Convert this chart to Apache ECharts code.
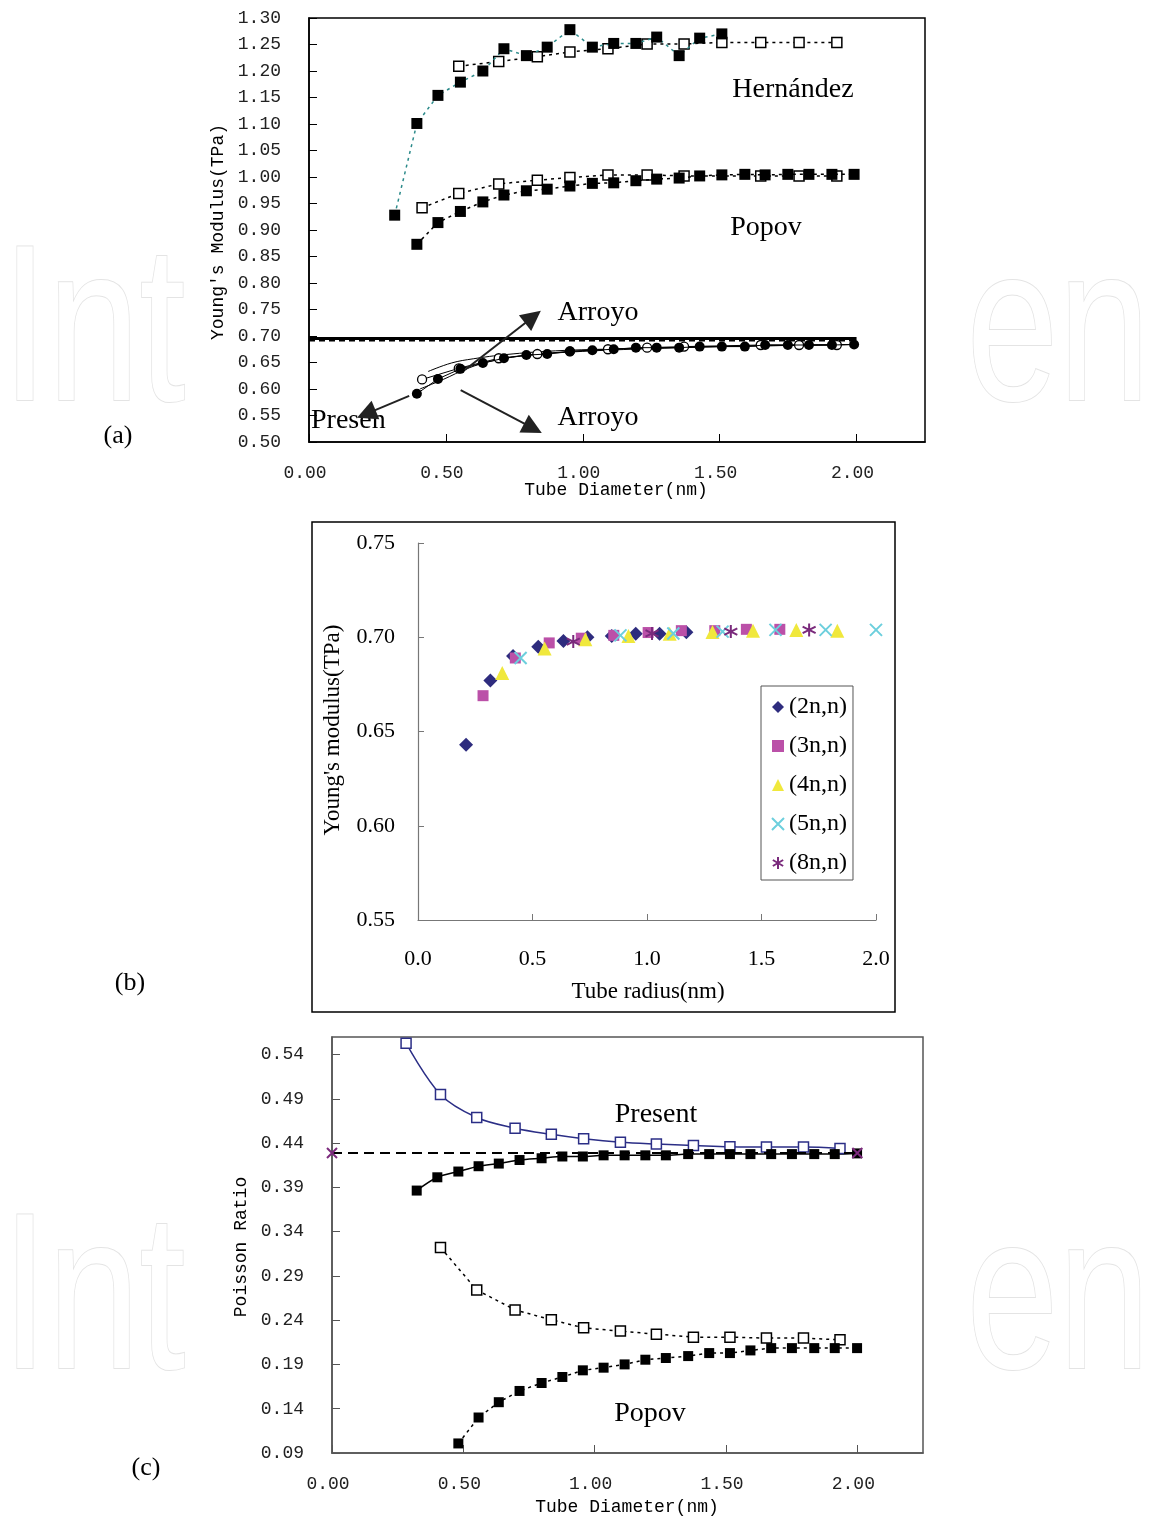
<!DOCTYPE html>
<html>
<head>
<meta charset="utf-8">
<script src="https://cdn.jsdelivr.net/npm/echarts@6/dist/echarts.min.js"></script>
<style>
  html, body { margin: 0; padding: 0; background: #fff; }
  #chart { width: 1150px; height: 1519px; }
</style>
</head>
<body>
<div id="chart"></div>
<script>
// ---------- (a) Young's modulus vs tube diameter ----------
const hernFilledD = [0.313, 0.394, 0.471, 0.553, 0.635, 0.712, 0.794, 0.870, 0.953, 1.035, 1.113, 1.194, 1.270, 1.352, 1.427, 1.508];
const hernFilledE = [0.928, 1.101, 1.154, 1.179, 1.200, 1.242, 1.229, 1.245, 1.278, 1.245, 1.252, 1.252, 1.264, 1.229, 1.262, 1.270];
const hernOpenD = [0.547, 0.693, 0.834, 0.953, 1.092, 1.235, 1.370, 1.508, 1.650, 1.790, 1.928];
const hernOpenE = [1.209, 1.218, 1.227, 1.236, 1.242, 1.251, 1.251, 1.254, 1.254, 1.254, 1.254];
const popovFilledD = [0.394, 0.471, 0.553, 0.635, 0.712, 0.794, 0.870, 0.953, 1.035, 1.113, 1.194, 1.270, 1.352, 1.427, 1.508, 1.592, 1.666, 1.749, 1.826, 1.910, 1.991];
const popovFilledE = [0.873, 0.914, 0.935, 0.953, 0.966, 0.974, 0.977, 0.983, 0.988, 0.989, 0.993, 0.996, 0.998, 1.002, 1.004, 1.005, 1.004, 1.005, 1.005, 1.005, 1.005];
const popovOpenD = [0.413, 0.547, 0.693, 0.834, 0.953, 1.092, 1.235, 1.370, 1.650, 1.790, 1.928];
const popovOpenE = [0.942, 0.969, 0.987, 0.994, 0.999, 1.004, 1.004, 1.002, 1.002, 1.002, 1.002];
const presFilledD = [0.394, 0.471, 0.553, 0.635, 0.712, 0.794, 0.870, 0.953, 1.035, 1.113, 1.194, 1.270, 1.352, 1.427, 1.508, 1.592, 1.666, 1.749, 1.826, 1.910, 1.991];
const presFilledE = [0.591, 0.619, 0.638, 0.649, 0.658, 0.664, 0.666, 0.671, 0.673, 0.675, 0.678, 0.678, 0.678, 0.680, 0.680, 0.680, 0.683, 0.683, 0.683, 0.683, 0.684];
const presOpenD = [0.413, 0.547, 0.693, 0.834, 0.953, 1.092, 1.235, 1.370, 1.650, 1.790, 1.928];
const presOpenE = [0.618, 0.639, 0.658, 0.666, 0.671, 0.675, 0.678, 0.680, 0.683, 0.683, 0.683];
const arroyoUpperD = [0.435, 0.52, 0.60, 0.72, 0.90, 1.15, 1.50, 2.00];
const arroyoUpperE = [0.633, 0.649, 0.657, 0.665, 0.672, 0.676, 0.680, 0.684];
const arroyoLowerD = [0.405, 0.49, 0.58, 0.67, 0.79, 1.00, 1.30, 1.60, 2.00];
const arroyoLowerE = [0.600, 0.618, 0.639, 0.653, 0.663, 0.671, 0.677, 0.681, 0.684];
const limitD = [0.0, 2.0];
const limitSolidE = [0.6955, 0.6955];
const limitDashE = [0.6915, 0.6915];

// ---------- (b) Young's modulus vs tube radius ----------
const r2n = [0.21, 0.316, 0.415, 0.525, 0.635, 0.740, 0.846, 0.951, 1.055, 1.172];
const e2n = [0.643, 0.677, 0.690, 0.695, 0.698, 0.700, 0.7007, 0.7018, 0.7018, 0.7026];
const r3n = [0.284, 0.425, 0.573, 0.713, 0.855, 1.005, 1.150, 1.296, 1.434, 1.580];
const e3n = [0.669, 0.689, 0.697, 0.6995, 0.701, 0.7025, 0.7035, 0.7035, 0.7042, 0.7042];
const r4n = [0.368, 0.553, 0.731, 0.919, 1.099, 1.286, 1.463, 1.652, 1.831];
const e4n = [0.681, 0.694, 0.699, 0.7007, 0.7018, 0.7028, 0.7035, 0.7039, 0.7035];
const r5n = [0.448, 0.884, 1.115, 1.330, 1.561, 1.780, 2.000];
const e5n = [0.689, 0.701, 0.702, 0.703, 0.7039, 0.7039, 0.7039];
const r8n = [0.678, 1.022, 1.366, 1.708];
const e8n = [0.6977, 0.702, 0.703, 0.7039];
const familyNames = ['(2n,n)', '(3n,n)', '(4n,n)', '(5n,n)', '(8n,n)'];

// ---------- (c) Poisson ratio vs tube diameter ----------
const nuPresOpenD = [0.282, 0.413, 0.551, 0.697, 0.835, 0.958, 1.098, 1.235, 1.376, 1.515, 1.654, 1.795, 1.934];
const nuPresOpenV = [0.553, 0.495, 0.469, 0.457, 0.450, 0.445, 0.441, 0.439, 0.4375, 0.436, 0.4356, 0.4356, 0.434];
const nuPresFilledD = [0.3225, 0.401, 0.481, 0.558, 0.635, 0.714, 0.798, 0.877, 0.955, 1.034, 1.114, 1.193, 1.271, 1.356, 1.436, 1.515, 1.593, 1.672, 1.751, 1.836, 1.914, 1.999];
const nuPresFilledV = [0.3865, 0.4015, 0.408, 0.414, 0.417, 0.421, 0.423, 0.425, 0.425, 0.4263, 0.4263, 0.4263, 0.4263, 0.4277, 0.4277, 0.4277, 0.4277, 0.4277, 0.4277, 0.4277, 0.4277, 0.4285];
const nuRefD = [0.0, 2.0];
const nuRefV = [0.429, 0.429];
const nuPopovOpenD = [0.413, 0.551, 0.697, 0.835, 0.958, 1.098, 1.235, 1.376, 1.515, 1.654, 1.795, 1.934];
const nuPopovOpenV = [0.3223, 0.2742, 0.2517, 0.2405, 0.2314, 0.2277, 0.2243, 0.2209, 0.2209, 0.2198, 0.2198, 0.2179];
const nuPopovFilledD = [0.481, 0.558, 0.635, 0.714, 0.798, 0.877, 0.955, 1.034, 1.114, 1.193, 1.271, 1.356, 1.436, 1.515, 1.593, 1.672, 1.751, 1.836, 1.914, 1.999];
const nuPopovFilledV = [0.1008, 0.1301, 0.1474, 0.1601, 0.1691, 0.1759, 0.1834, 0.1864, 0.1901, 0.1954, 0.1973, 0.1995, 0.2029, 0.2029, 0.2059, 0.2085, 0.2085, 0.2085, 0.2085, 0.2085];

const zip = (xs, ys) => xs.map((x, i) => [x, ys[i]]);

const MONO = 'Liberation Mono';
const SERIF = 'Liberation Serif';
const CROSS = 'path://M0,0L10,10M10,0L0,10';
const STAR = 'path://M5,0L5,10M0.7,2.5L9.3,7.5M0.7,7.5L9.3,2.5';

function monoXAxis(idx) {
  return {
    type: 'value', gridIndex: idx, min: 0, max: 2.25, interval: 0.5,
    axisLine: { show: true, lineStyle: { color: idx === 0 ? '#000' : '#555', width: 1.5 } },
    axisTick: { show: true, inside: true, length: 8, lineStyle: { color: idx === 0 ? '#000' : '#555' } },
    axisLabel: { fontFamily: MONO, fontSize: 18, color: '#222', margin: 22, showMaxLabel: false,
                 padding: [0, 8, 0, 0], formatter: v => v.toFixed(2) },
    splitLine: { show: false }
  };
}

function dotted(color) { return { color: color, width: 1.5, type: [3, 4] }; }

function label(text, x, y, size, family, extra) {
  return Object.assign({ type: 'text', x: x, y: y, silent: true,
    style: { text: text, font: size + 'px "' + family + '"', fill: '#000', align: 'center', verticalAlign: 'middle' } }, extra || {});
}

function watermark(text, x, y, align) {
  return { type: 'text', x: x, y: y, scaleX: 0.74, z: -10, silent: true,
    style: { text: text, font: '223px "Liberation Sans"', fill: '#fff', stroke: '#e4e4e4', lineWidth: 2, align: align, verticalAlign: 'middle' } };
}

const chart = echarts.init(document.getElementById('chart'), null, { renderer: 'canvas' });

const option = {
  animation: false,
  backgroundColor: '#fff',
  grid: [
    { left: 309, top: 18, width: 616, height: 424, show: true, borderColor: '#000', borderWidth: 1.5, backgroundColor: 'transparent' },
    { left: 418, top: 543, width: 458, height: 377 },
    { left: 332, top: 1037, width: 591, height: 416, show: true, borderColor: '#555', borderWidth: 1.5, backgroundColor: 'transparent' }
  ],
  xAxis: [
    monoXAxis(0),
    {
      type: 'value', gridIndex: 1, min: 0, max: 2, interval: 0.5,
      axisLine: { show: true, lineStyle: { color: '#777', width: 1.2 } },
      axisTick: { show: true, inside: true, length: 6, lineStyle: { color: '#777' } },
      axisLabel: { fontFamily: SERIF, fontSize: 22, color: '#000', margin: 28, formatter: v => v.toFixed(1) },
      splitLine: { show: false }
    },
    monoXAxis(2)
  ],
  yAxis: [
    {
      type: 'value', gridIndex: 0, min: 0.5, max: 1.3, interval: 0.05,
      axisLine: { show: true, lineStyle: { color: '#000', width: 1.5 } },
      axisTick: { show: true, inside: true, length: 8, lineStyle: { color: '#000' } },
      axisLabel: { fontFamily: MONO, fontSize: 18, color: '#222', margin: 28, formatter: v => v.toFixed(2) },
      splitLine: { show: false }
    },
    {
      type: 'value', gridIndex: 1, min: 0.55, max: 0.75, interval: 0.05,
      axisLine: { show: true, lineStyle: { color: '#777', width: 1.2 } },
      axisTick: { show: true, inside: true, length: 6, lineStyle: { color: '#777' } },
      axisLabel: { fontFamily: SERIF, fontSize: 22, color: '#000', margin: 23, formatter: v => v.toFixed(2) },
      splitLine: { show: false }
    },
    {
      type: 'value', gridIndex: 2, min: 0.09, max: 0.56, interval: 0.05,
      axisLine: { show: true, lineStyle: { color: '#555', width: 1.5 } },
      axisTick: { show: true, inside: true, length: 8, lineStyle: { color: '#555' } },
      axisLabel: { fontFamily: MONO, fontSize: 18, color: '#222', margin: 28, showMaxLabel: false, formatter: v => v.toFixed(2) },
      splitLine: { show: false }
    }
  ],
  legend: {
    data: familyNames,
    orient: 'vertical',
    left: 761, top: 686,
    backgroundColor: '#fff',
    borderColor: '#555', borderWidth: 1,
    padding: [9, 6, 5, 10],
    itemGap: 15, itemWidth: 12, itemHeight: 12, itemTextGap: 7,
    textStyle: { fontFamily: SERIF, fontSize: 24, color: '#000', lineHeight: 24 }
  },
  series: [
    // ---- (a) ----
    { type: 'line', name: 'Hernández, filled', xAxisIndex: 0, yAxisIndex: 0, data: zip(hernFilledD, hernFilledE),
      symbol: 'rect', symbolSize: 11, itemStyle: { color: '#000' }, lineStyle: dotted('#2b8a8a'), z: 4 },
    { type: 'line', name: 'Hernández, open', xAxisIndex: 0, yAxisIndex: 0, data: zip(hernOpenD, hernOpenE),
      symbol: 'rect', symbolSize: 10, itemStyle: { color: '#fff', borderColor: '#000', borderWidth: 1.5 }, lineStyle: dotted('#000'), z: 3 },
    { type: 'line', name: 'Popov, filled', xAxisIndex: 0, yAxisIndex: 0, data: zip(popovFilledD, popovFilledE),
      symbol: 'rect', symbolSize: 11, itemStyle: { color: '#000' }, lineStyle: dotted('#000'), z: 4 },
    { type: 'line', name: 'Popov, open', xAxisIndex: 0, yAxisIndex: 0, data: zip(popovOpenD, popovOpenE),
      symbol: 'rect', symbolSize: 10, itemStyle: { color: '#fff', borderColor: '#000', borderWidth: 1.5 }, lineStyle: dotted('#000'), z: 3 },
    { type: 'line', name: 'Continuum', xAxisIndex: 0, yAxisIndex: 0, data: zip(limitD, limitSolidE),
      symbol: 'none', lineStyle: { color: '#000', width: 3 }, clip: false, z: 2 },
    { type: 'line', name: 'Continuum, dashed', xAxisIndex: 0, yAxisIndex: 0, data: zip(limitD, limitDashE),
      symbol: 'none', lineStyle: { color: '#000', width: 2, type: [6, 4] }, clip: false, z: 2 },
    { type: 'line', name: 'Arroyo upper', xAxisIndex: 0, yAxisIndex: 0, data: zip(arroyoUpperD, arroyoUpperE),
      symbol: 'none', smooth: 0.4, lineStyle: { color: '#000', width: 1 }, z: 2,
      markLine: {
        silent: true, symbol: ['none', 'triangle'], symbolSize: 20,
        itemStyle: { color: '#222' },
        lineStyle: { color: '#222', width: 2, type: 'solid' }, label: { show: false },
        data: [
          [{ coord: [0.569, 0.636] }, { coord: [0.818, 0.736] }],
          [{ coord: [0.554, 0.598] }, { coord: [0.818, 0.526] }],
          [{ coord: [0.366, 0.587] }, { coord: [0.209, 0.553] }]
        ]
      } },
    { type: 'line', name: 'Arroyo lower', xAxisIndex: 0, yAxisIndex: 0, data: zip(arroyoLowerD, arroyoLowerE),
      symbol: 'none', smooth: 0.4, lineStyle: { color: '#000', width: 1 }, z: 2 },
    { type: 'line', name: 'Present, filled', xAxisIndex: 0, yAxisIndex: 0, data: zip(presFilledD, presFilledE),
      symbol: 'circle', symbolSize: 10, itemStyle: { color: '#000' }, lineStyle: { color: '#000', width: 1 }, z: 4 },
    { type: 'line', name: 'Present, open', xAxisIndex: 0, yAxisIndex: 0, data: zip(presOpenD, presOpenE),
      symbol: 'circle', symbolSize: 9, itemStyle: { color: '#fff', borderColor: '#000', borderWidth: 1.3 }, lineStyle: { color: '#000', width: 1 }, z: 3 },

    // ---- (b) ----
    { type: 'scatter', name: familyNames[0], xAxisIndex: 1, yAxisIndex: 1, data: zip(r2n, e2n),
      symbol: 'diamond', symbolSize: 14, itemStyle: { color: '#2e2c7e', opacity: 1 }, clip: false },
    { type: 'scatter', name: familyNames[1], xAxisIndex: 1, yAxisIndex: 1, data: zip(r3n, e3n),
      symbol: 'rect', symbolSize: 11, itemStyle: { color: '#bb50a8', opacity: 1 }, clip: false },
    { type: 'scatter', name: familyNames[2], xAxisIndex: 1, yAxisIndex: 1, data: zip(r4n, e4n),
      symbol: 'triangle', symbolSize: 14, itemStyle: { color: '#f0e83c', opacity: 1 }, clip: false },
    { type: 'scatter', name: familyNames[3], xAxisIndex: 1, yAxisIndex: 1, data: zip(r5n, e5n),
      symbol: CROSS, symbolSize: 12, itemStyle: { color: '#6ccfdd', borderColor: '#6ccfdd', borderWidth: 2, opacity: 1 }, clip: false },
    { type: 'scatter', name: familyNames[4], xAxisIndex: 1, yAxisIndex: 1, data: zip(r8n, e8n),
      symbol: STAR, symbolSize: 13, itemStyle: { color: '#7a2a7c', borderColor: '#7a2a7c', borderWidth: 2, opacity: 1 }, clip: false },

    // ---- (c) ----
    { type: 'line', name: 'ν present, open', xAxisIndex: 2, yAxisIndex: 2, data: zip(nuPresOpenD, nuPresOpenV),
      symbol: 'rect', symbolSize: 10, smooth: 0.35, itemStyle: { color: '#fff', borderColor: '#2b2e86', borderWidth: 1.5 },
      lineStyle: { color: '#2b2e86', width: 1.5 }, z: 3 },
    { type: 'line', name: 'ν present, filled', xAxisIndex: 2, yAxisIndex: 2, data: zip(nuPresFilledD, nuPresFilledV),
      symbol: 'rect', symbolSize: 10, smooth: 0.3, itemStyle: { color: '#000' }, lineStyle: { color: '#000', width: 1.5 }, z: 3 },
    { type: 'line', name: 'ν limit', xAxisIndex: 2, yAxisIndex: 2, data: zip(nuRefD, nuRefV),
      symbol: CROSS, symbolSize: 10, itemStyle: { color: '#7d2b7e', borderColor: '#7d2b7e', borderWidth: 2 },
      lineStyle: { color: '#000', width: 2, type: [10, 6] }, clip: false, z: 4 },
    { type: 'line', name: 'ν Popov, open', xAxisIndex: 2, yAxisIndex: 2, data: zip(nuPopovOpenD, nuPopovOpenV),
      symbol: 'rect', symbolSize: 10, itemStyle: { color: '#fff', borderColor: '#000', borderWidth: 1.5 }, lineStyle: dotted('#000'), z: 3 },
    { type: 'line', name: 'ν Popov, filled', xAxisIndex: 2, yAxisIndex: 2, data: zip(nuPopovFilledD, nuPopovFilledV),
      symbol: 'rect', symbolSize: 10, itemStyle: { color: '#000' }, lineStyle: dotted('#000'), z: 3 }
  ],
  graphic: [
    // faint publisher watermark
    watermark('Int', 2, 338, 'left'),
    watermark('en', 1150, 338, 'right'),
    watermark('Int', 2, 1306, 'left'),
    watermark('en', 1150, 1306, 'right'),

    // panel (b) frame
    { type: 'rect', shape: { x: 312, y: 522, width: 583, height: 490 }, z: -1, silent: true,
      style: { fill: 'none', stroke: '#000', lineWidth: 1.5 } },

    // axis titles
    label("Young's Modulus(TPa)", 218, 232, 18, MONO, { rotation: Math.PI / 2 }),
    label('Tube Diameter(nm)', 616, 490, 18, MONO),
    label("Young's modulus(TPa)", 333, 730, 23, SERIF, { rotation: Math.PI / 2 }),
    label('Tube radius(nm)', 648, 992, 23, SERIF),
    label('Poisson Ratio', 241, 1247, 18, MONO, { rotation: Math.PI / 2 }),
    label('Tube Diameter(nm)', 627, 1507, 18, MONO),

    // curve labels
    label('Hernández', 793, 90, 28, SERIF),
    label('Popov', 766, 228, 28, SERIF),
    label('Arroyo', 598, 313, 28, SERIF),
    label('Arroyo', 598, 418, 28, SERIF),
    { type: 'text', x: 311, y: 421, silent: true,
      style: { text: 'Presen', font: '28px "' + SERIF + '"', fill: '#000', align: 'left', verticalAlign: 'middle' } },
    label('Present', 656, 1115, 28, SERIF),
    label('Popov', 650, 1414, 28, SERIF),

    // panel tags
    label('(a)', 118, 436, 26, SERIF),
    label('(b)', 130, 983, 26, SERIF),
    label('(c)', 146, 1468, 26, SERIF)
  ]
};

chart.setOption(option);
</script>
</body>
</html>
